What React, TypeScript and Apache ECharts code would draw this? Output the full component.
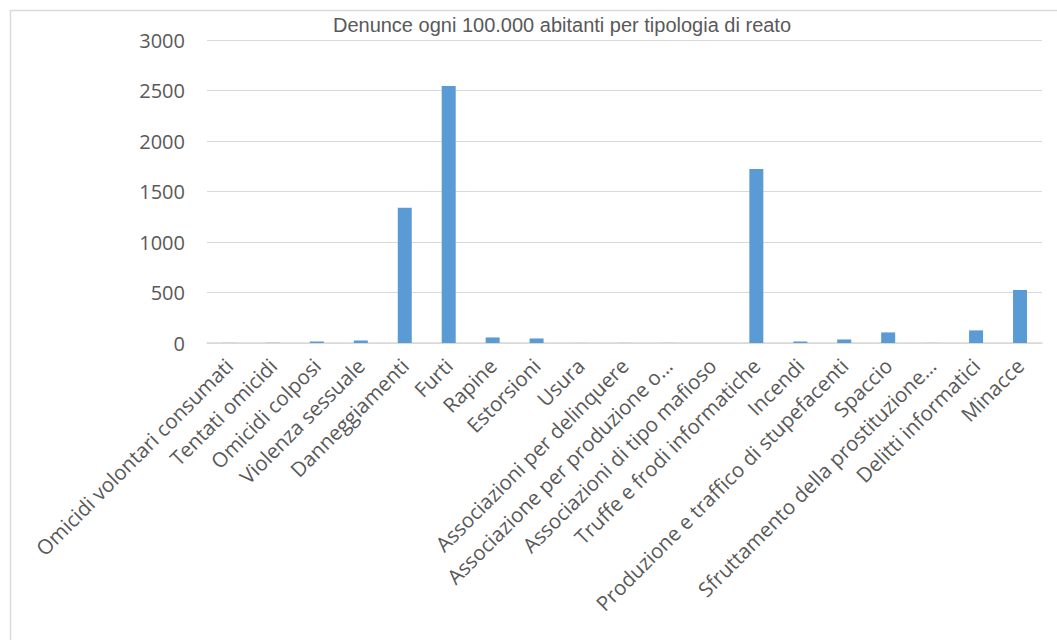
import React, { useEffect, useRef } from "react";
import * as echarts from "echarts";

const title = "Denunce ogni 100.000 abitanti per tipologia di reato";

const categories = [
  "Omicidi volontari consumati",
  "Tentati omicidi",
  "Omicidi colposi",
  "Violenza sessuale",
  "Danneggiamenti",
  "Furti",
  "Rapine",
  "Estorsioni",
  "Usura",
  "Associazioni per delinquere",
  "Associazione per produzione o…",
  "Associazioni di tipo mafioso",
  "Truffe e frodi informatiche",
  "Incendi",
  "Produzione e traffico di stupefacenti",
  "Spaccio",
  "Sfruttamento della prostituzione…",
  "Delitti informatici",
  "Minacce",
];

const values = [1, 2, 15, 25, 1340, 2545, 55, 45, 0.5, 1, 1, 0.3, 1722, 15, 35, 105, 1, 125, 525];

const yTicks = [0, 500, 1000, 1500, 2000, 2500, 3000];

export default function App() {
  const ref = useRef<HTMLDivElement>(null);
  useEffect(() => {
    if (!ref.current) return;
    const chart = echarts.init(ref.current, null, { renderer: "svg" });
    chart.setOption({
      animation: false,
      backgroundColor: "#ffffff",
      graphic: [
        {
          type: "rect",
          shape: { x: 10.5, y: 10.5, width: 1200, height: 800 },
          style: { fill: "none", stroke: "#d9d9d9", lineWidth: 1.5 },
          z: -1,
        },
        {
          type: "text",
          x: 562,
          y: 25,
          style: {
            text: title,
            fill: "#595959",
            font: '20px "Liberation Sans", Arial, sans-serif',
            align: "center",
            verticalAlign: "middle",
          },
        },
      ],
      grid: { left: 207, right: 15, top: 40, bottom: 297, containLabel: false },
      xAxis: {
        type: "category",
        data: categories,
        axisTick: { show: false },
        axisLine: { lineStyle: { color: "#d9d9d9", width: 1.5 } },
        axisLabel: {
          rotate: 45,
          interval: 0,
          margin: 19,
          color: "#595959",
          fontFamily: '"Open Sans", sans-serif',
          fontSize: 20.5,
        },
      },
      yAxis: {
        type: "value",
        min: yTicks[0],
        max: yTicks[yTicks.length - 1],
        interval: 500,
        axisLine: { show: false },
        axisTick: { show: false },
        splitLine: { lineStyle: { color: "#d9d9d9", width: 1 } },
        axisLabel: {
          margin: 22,
          color: "#595959",
          fontFamily: '"Open Sans", sans-serif',
          fontSize: 20,
          formatter: (v: number) => String(v),
        },
      },
      series: [
        {
          type: "bar",
          data: values,
          barWidth: 14,
          itemStyle: { color: "#5b9bd5" },
        },
      ],
    });
    return () => chart.dispose();
  }, []);
  return (
    <div
      ref={ref}
      style={{ position: "absolute", left: 0, top: 0, width: 1057, height: 640 }}
    />
  );
}
